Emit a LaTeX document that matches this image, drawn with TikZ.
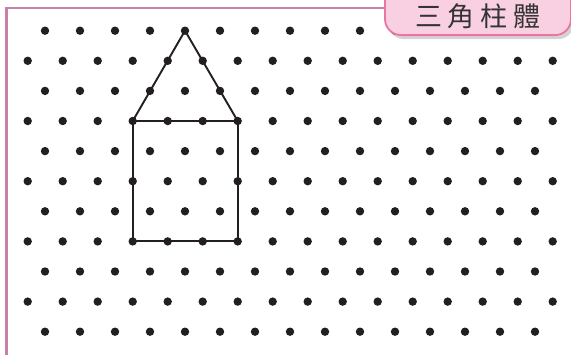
\documentclass[tikz,border=0pt]{standalone}
\usepackage{fontspec}
\newfontfamily\cjkfont{Noto Sans CJK TC}
\usetikzlibrary{shadows}
\definecolor{framepink}{RGB}{200,128,168}
\definecolor{tabpink}{RGB}{249,208,226}
\definecolor{tabedge}{RGB}{232,118,160}
\definecolor{dotblack}{RGB}{35,31,32}

\begin{document}
\begin{tikzpicture}[x=1pt,y=-1pt,
	dot/.style={circle,fill=dotblack,inner sep=0pt,minimum size=8.4pt},
	edgeline/.style={dotblack,line width=1.9pt},
	tab/.style={rectangle,rounded corners=16pt,fill=tabpink,draw=tabedge,line width=1.8pt,
		drop shadow={shadow xshift=3pt,shadow yshift=-4pt,opacity=0.35}}]
		\useasboundingbox (0,0) rectangle (571,354);

		\foreach \r in {1,3,...,11}
			\foreach \c in {1,...,15}
				\draw (10+35*\c, 30.7+30.1*\r-30.1) node[dot] (d-\r-\c) {};
		\foreach \r in {2,4,...,10}
			\foreach \c in {1,...,16}
				\draw (-7.3+35*\c, 30.7+30.1*\r-30.1) node[dot] (d-\r-\c) {};

		\draw[edgeline] (d-4-4.center) -- (d-1-5.center) -- (d-4-7.center);
		\draw[edgeline] (d-4-4.center) -- (d-4-7.center) -- (d-8-7.center) -- (d-8-4.center) -- cycle;

		\coordinate (frame-end) at (390,8.3);
		\coordinate (frame-corner) at (6.5,8.3);
		\coordinate (frame-foot) at (6.5,360);
		\draw[framepink,line width=2.2pt] (frame-end) -- (frame-corner) -- (frame-foot);

		\node[tab,minimum width=186pt,minimum height=60pt,anchor=south] (tab) at (478,36) {};
		\node[font=\cjkfont\fontsize{27}{27}\selectfont,text=black!80] (title) at (478,16.5)
			{三\hspace{6pt}角\hspace{6pt}柱\hspace{6pt}體};
\end{tikzpicture}
\end{document}
